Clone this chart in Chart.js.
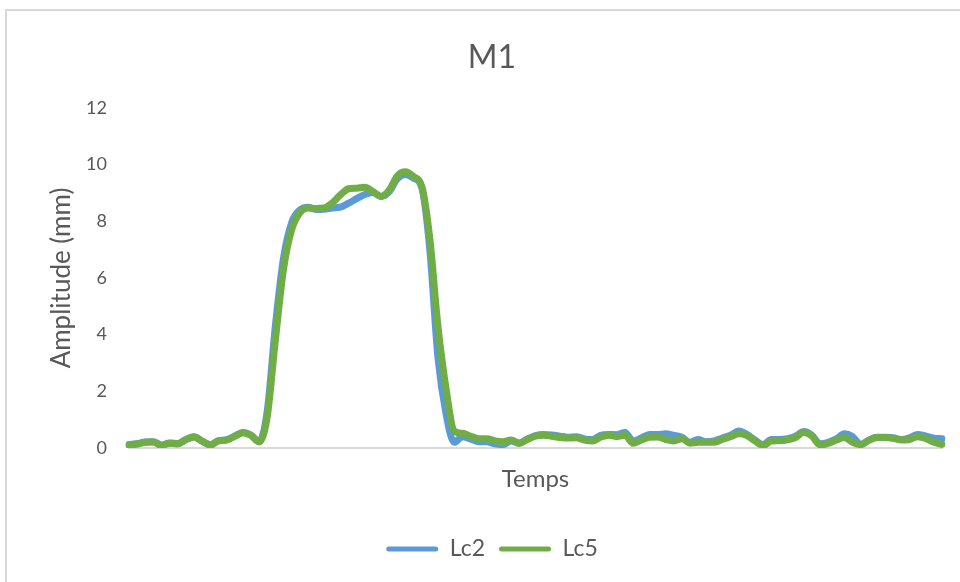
<!DOCTYPE html>
<html><head><meta charset="utf-8">
<script src="https://cdn.jsdelivr.net/npm/chart.js@4.4.1/dist/chart.umd.min.js"></script>
<style>
html,body{margin:0;padding:0;background:#fff;}
#wrap{position:relative;width:960px;height:582px;overflow:hidden;}
#frame{position:absolute;left:5px;top:9px;width:1000px;height:700px;border:2px solid #d9d9d9;box-sizing:border-box;}
canvas{position:absolute;left:0;top:0;}
</style></head><body>
<div id="wrap"><div id="frame"></div><canvas id="c" width="960" height="582"></canvas></div>
<script>
const categories = [1,2,3,4,5,6,7,8,9,10,11,12,13,14,15,16,17,18,19,20,21,22,23,24,25,26,27,28,29,30,31,32,33,34,35,36,37,38,39,40,41,42,43,44,45,46,47,48,49,50,51,52,53,54,55,56,57,58,59,60,61,62,63,64,65,66,67,68,69,70,71,72,73,74,75,76,77,78,79,80,81,82,83,84,85,86,87,88,89,90,91,92,93,94,95,96,97,98,99,100,101];
const lc2 = [
0.12,0.15,0.21,0.22,0.10,0.18,0.15,0.30,0.40,0.24,
0.11,0.26,0.29,0.42,0.55,0.46,0.22,1.30,4.30,6.70,
7.95,8.40,8.50,8.42,8.43,8.47,8.50,8.64,8.80,8.95,
9.02,8.88,9.05,9.50,9.65,9.52,9.20,7.00,3.20,1.20,
0.20,0.40,0.32,0.22,0.22,0.15,0.12,0.25,0.18,0.32,
0.44,0.48,0.46,0.42,0.38,0.40,0.32,0.30,0.45,0.48,
0.47,0.55,0.25,0.35,0.48,0.48,0.50,0.45,0.38,0.20,
0.30,0.22,0.25,0.35,0.45,0.60,0.48,0.28,0.12,0.30,
0.30,0.33,0.42,0.58,0.45,0.15,0.20,0.32,0.50,0.40,
0.12,0.28,0.38,0.38,0.36,0.30,0.36,0.48,0.42,0.35,
0.33];
const lc5 = [
0.10,0.14,0.20,0.21,0.10,0.17,0.15,0.29,0.39,0.24,
0.11,0.25,0.28,0.41,0.54,0.44,0.22,1.10,3.80,6.30,
7.70,8.30,8.47,8.45,8.47,8.65,8.93,9.15,9.17,9.20,
9.05,8.88,9.10,9.60,9.75,9.58,9.25,7.40,4.30,2.10,
0.60,0.52,0.42,0.33,0.33,0.25,0.22,0.28,0.16,0.30,
0.42,0.45,0.41,0.37,0.35,0.36,0.28,0.25,0.38,0.45,
0.40,0.45,0.17,0.28,0.38,0.39,0.30,0.25,0.33,0.17,
0.20,0.20,0.20,0.31,0.40,0.50,0.44,0.25,0.09,0.25,
0.26,0.29,0.37,0.56,0.42,0.11,0.16,0.28,0.37,0.20,
0.12,0.27,0.37,0.37,0.34,0.28,0.30,0.40,0.34,0.20,
0.13];
const yTicks = [0,2,4,6,8,10,12];
const seriesNames = ['Lc2','Lc5'];
const chartTitle = 'M1';
const xTitle = 'Temps';
const yTitle = 'Amplitude (mm)';

const FONT = 'Lato, "Open Sans", sans-serif';
const TXT = '#595959';
const BLUE = '#5B9BD5';
const GREEN = '#70AD47';

new Chart(document.getElementById('c'), {
  type: 'line',
  data: {
    labels: categories,
    datasets: [
      {label: seriesNames[0], data: lc2, order: 2, borderColor: BLUE, backgroundColor: BLUE, borderWidth: 7, pointRadius: 0, fill: false, cubicInterpolationMode: 'monotone', borderCapStyle: 'round', borderJoinStyle: 'round'},
      {label: seriesNames[1], data: lc5, order: 1, borderColor: GREEN, backgroundColor: GREEN, borderWidth: 7, pointRadius: 0, fill: false, cubicInterpolationMode: 'monotone', borderCapStyle: 'round', borderJoinStyle: 'round'}
    ]
  },
  options: {
    responsive: false,
    devicePixelRatio: 1,
    animation: false,
    events: [],
    layout: {padding: {left: 42, right: 18, top: 0, bottom: 11.5}},
    plugins: {
      title: {display: true, text: chartTitle, color: TXT, font: {family: FONT, size: 32, weight: 'normal'}, padding: {top: 38, bottom: 31.6}},
      legend: {
        position: 'bottom',
        labels: {
          color: TXT, font: {family: FONT, size: 23}, boxWidth: 52, boxHeight: 5, padding: 14,
          useBorderRadius: true, borderRadius: 2.5,
          generateLabels: (chart) => Chart.defaults.plugins.legend.labels.generateLabels(chart)
            .sort((a, b) => a.datasetIndex - b.datasetIndex)
            .map(it => Object.assign(it, {lineWidth: 0, fillStyle: it.strokeStyle}))
        }
      },
      tooltip: {enabled: false}
    },
    scales: {
      x: {
        type: 'category', offset: false,
        grid: {display: false, drawTicks: false},
        border: {display: true, color: '#d9d9d9', width: 2},
        ticks: {display: false},
        title: {display: true, text: xTitle, color: TXT, font: {family: FONT, size: 24}, padding: {top: 16.6, bottom: 30.1}}
      },
      y: {
        min: 0, max: 12,
        afterBuildTicks: (s) => { s.ticks = yTicks.map(v => ({value: v})); },
        afterFit: (s) => { s.width = 87; },
        grid: {display: false, drawTicks: false},
        border: {display: false},
        ticks: {color: TXT, font: {family: FONT, size: 18}, padding: 22},
        title: {display: true, text: yTitle, color: TXT, font: {family: FONT, size: 26}, padding: {top: 4.4, bottom: 0}}
      }
    }
  }
});
</script>
</body></html>
